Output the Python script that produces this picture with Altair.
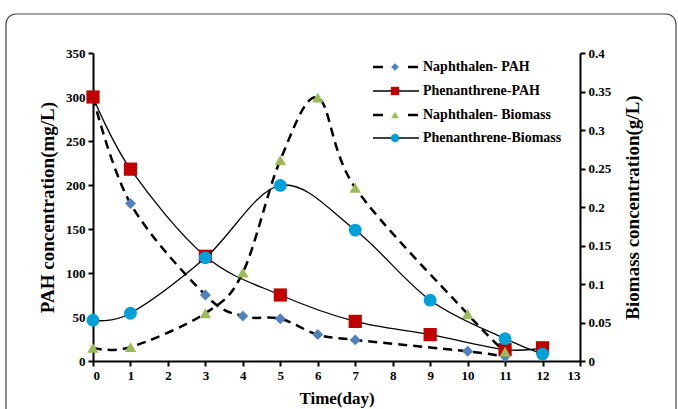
import altair as alt
import pandas as pd

# ---- data ----
days_naph_pah = [0, 1, 3, 4, 5, 6, 7, 10, 11]
naph_pah = [300, 179, 75, 51, 48, 30, 24, 11, 5]

days_phen_pah = [0, 1, 3, 5, 7, 9, 11, 12]
phen_pah = [300, 218, 119, 75, 45, 30, 13, 15]

days_naph_bio = [0, 1, 3, 4, 5, 6, 7, 10, 11]
naph_bio = [0.017, 0.018, 0.062, 0.115, 0.261, 0.342, 0.225, 0.061, 0.012]

days_phen_bio = [0, 1, 3, 5, 7, 9, 11, 12]
phen_bio = [0.053, 0.062, 0.134, 0.228, 0.170, 0.079, 0.029, 0.009]

x_ticks = list(range(0, 14))
left_ticks = list(range(0, 351, 50))
right_ticks = [0, 0.05, 0.1, 0.15, 0.2, 0.25, 0.3, 0.35, 0.4]

legend_labels = ["Naphthalen- PAH", "Phenanthrene-PAH",
                 "Naphthalen- Biomass", "Phenanthrene-Biomass"]

FONT = "Liberation Serif"
RED = "#C00000"
BLUE = "#4F81BD"
GREEN = "#9BBB59"
CYAN = "#00A0DA"

df_np = pd.DataFrame({"day": days_naph_pah, "v": naph_pah})
df_pp = pd.DataFrame({"day": days_phen_pah, "v": phen_pah})
df_nb = pd.DataFrame({"day": days_naph_bio, "v": naph_bio})
df_pb = pd.DataFrame({"day": days_phen_bio, "v": phen_bio})

common_axis = dict(labelFont=FONT, labelFontWeight="bold", labelFontSize=13,
                   labelColor="black", titleFont=FONT, titleFontWeight="bold",
                   titleColor="black")

X = alt.X("day:Q", scale=alt.Scale(domain=[0, 13], nice=False),
          axis=alt.Axis(values=x_ticks, title="Time(day)", titlePadding=8,
                        titleFontSize=17, **common_axis))
YL = alt.Y("v:Q", scale=alt.Scale(domain=[0, 350], nice=False),
           axis=alt.Axis(orient="left", values=left_ticks,
                         title="PAH concentration(mg/L)", titlePadding=8,
                         titleFontSize=19, **common_axis))
YR = alt.Y("v:Q", scale=alt.Scale(domain=[0, 0.4], nice=False),
           axis=alt.Axis(orient="right", values=right_ticks, format="~g",
                         title="Biomass concentration(g/L)", titlePadding=13,
                         titleAngle=270, titleBaseline="top",
                         titleFontSize=19, **common_axis))

DASH = [9, 6]

l1 = alt.Chart(df_np).mark_line(interpolate="cardinal", color="black",
                                strokeWidth=2.5, strokeDash=DASH).encode(x=X, y=YL)
p1 = alt.Chart(df_np).mark_point(shape="diamond", filled=True, size=120,
                                 color=BLUE, opacity=1).encode(x=X, y=YL)
l2 = alt.Chart(df_pp).mark_line(interpolate="cardinal", color="black",
                                strokeWidth=1.3).encode(x=X, y=YL)
p2 = alt.Chart(df_pp).mark_point(shape="square", filled=True, size=175,
                                 color=RED, opacity=1).encode(x=X, y=YL)
left = alt.layer(l1, p1, l2, p2)

l3 = alt.Chart(df_nb).mark_line(interpolate="cardinal", color="black",
                                strokeWidth=2.5, strokeDash=DASH).encode(x=X, y=YR)
p3 = alt.Chart(df_nb).mark_point(shape="triangle-up", filled=True, size=130,
                                 color=GREEN, opacity=1).encode(x=X, y=YR)
l4 = alt.Chart(df_pb).mark_line(interpolate="cardinal", color="black",
                                strokeWidth=1.3).encode(x=X, y=YR)
p4 = alt.Chart(df_pb).mark_point(shape="circle", filled=True, size=165,
                                 color=CYAN, opacity=1).encode(x=X, y=YR)
right = alt.layer(l3, p3, l4, p4)

dummy = alt.Data(values=[{}])

frame = alt.Chart(dummy).mark_rect(fill=None, stroke="#444", strokeWidth=1.2,
                                   cornerRadius=10).encode(
    x=alt.value(-87), x2=alt.value(583), y=alt.value(-39), y2=alt.value(380))

legend_layers = []
rows_y = [14, 38, 62, 85]
shapes = ["diamond", "square", "triangle-up", "circle"]
colors = [BLUE, RED, GREEN, CYAN]
sizes = [60, 70, 60, 70]
dashed = [True, False, True, False]
for lab, yy, shp, col, sz, dsh in zip(legend_labels, rows_y, shapes, colors, sizes, dashed):
    if dsh:
        ln = alt.Chart(dummy).mark_rule(color="black", strokeWidth=2.5,
                                        strokeDash=[10, 25]).encode(
            x=alt.value(280), x2=alt.value(326), y=alt.value(yy))
    else:
        ln = alt.Chart(dummy).mark_rule(color="black", strokeWidth=1.3).encode(
            x=alt.value(280), x2=alt.value(326), y=alt.value(yy))
    pt = alt.Chart(dummy).mark_point(shape=shp, filled=True, size=sz, color=col,
                                     opacity=1).encode(
        x=alt.value(302), y=alt.value(yy))
    tx = alt.Chart(dummy).mark_text(align="left", baseline="middle", font=FONT,
                                    fontWeight="bold", fontSize=14,
                                    color="black").encode(
        x=alt.value(330), y=alt.value(yy), text=alt.value(lab))
    legend_layers += [ln, pt, tx]

chart = alt.layer(frame, left, right, *legend_layers).resolve_scale(
    y="independent"
).properties(
    width=487, height=308,
    padding={"left": 93, "top": 53, "right": 98, "bottom": 48},
    autosize="none",
    background="white",
).configure_view(stroke=None).configure_axis(
    grid=False,
    domainColor="black", domainWidth=2,
    tickColor="black", tickWidth=2, tickSize=5,
    labelFont=FONT, labelFontWeight="bold", labelFontSize=13, labelColor="black",
    labelPadding=3,
    titleFont=FONT, titleFontWeight="bold", titleFontSize=19, titleColor="black",
)

chart.save("out.html", embed_options={"renderer": "svg", "actions": False})
